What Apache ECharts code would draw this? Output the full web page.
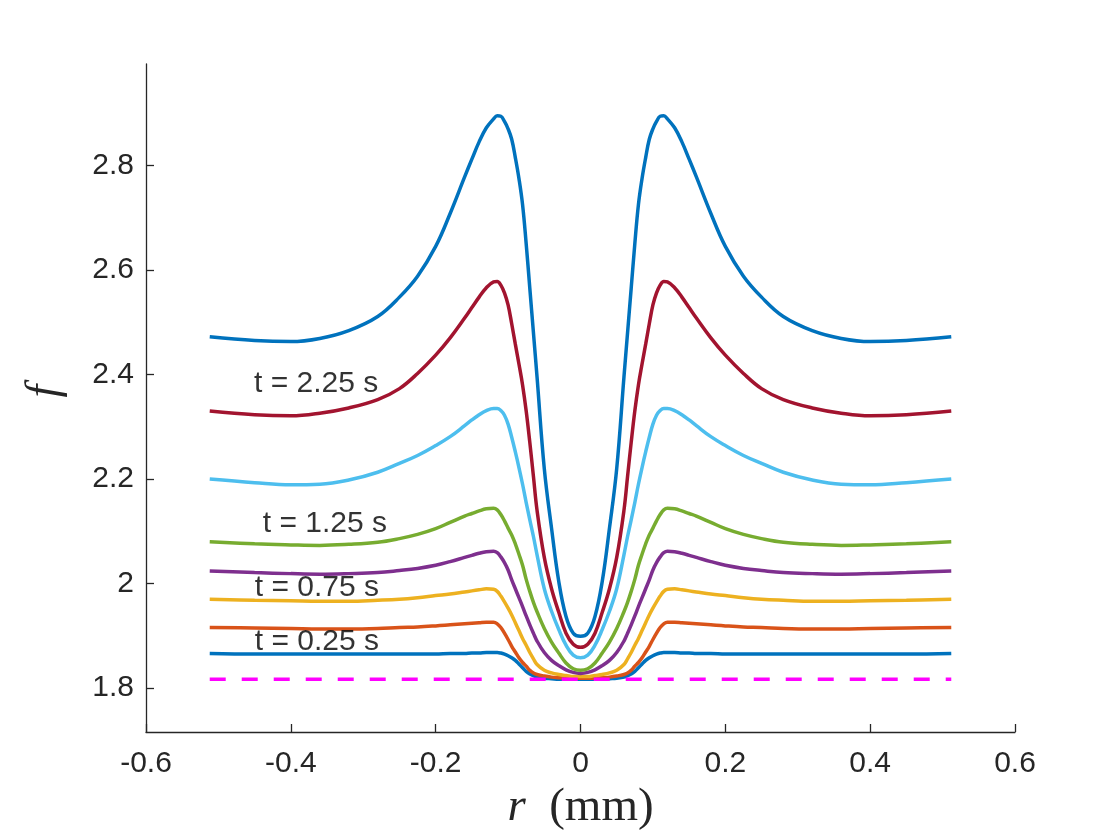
<!DOCTYPE html>
<html>
<head>
<meta charset="utf-8">
<script src="https://cdn.jsdelivr.net/npm/echarts@6/dist/echarts.min.js"></script>
<style>
html,body{margin:0;padding:0;background:#fff;}
#chart{width:1120px;height:840px;}
</style>
</head>
<body>
<div id="chart"></div>
<script>
// radial positions (mm)
const r = [-0.512, -0.45, -0.40, -0.36, -0.32, -0.28, -0.25, -0.225, -0.20, -0.18, -0.16, -0.15, -0.14, -0.13, -0.12, -0.115, -0.11, -0.105, -0.10, -0.095, -0.09, -0.085, -0.08, -0.075, -0.07, -0.065, -0.06, -0.05, -0.04, -0.03, -0.02, -0.01, 0,
           0.01, 0.02, 0.03, 0.04, 0.05, 0.06, 0.065, 0.07, 0.075, 0.08, 0.085, 0.09, 0.095, 0.10, 0.105, 0.11, 0.115, 0.12, 0.13, 0.14, 0.15, 0.16, 0.18, 0.20, 0.225, 0.25, 0.28, 0.32, 0.36, 0.40, 0.45, 0.512];

const f_t025 = [1.866, 1.865, 1.865, 1.865, 1.865, 1.865, 1.865, 1.865, 1.865, 1.866, 1.866, 1.867, 1.867, 1.868, 1.868, 1.868, 1.867, 1.865, 1.862, 1.858, 1.853, 1.846, 1.839, 1.832, 1.827, 1.824, 1.821, 1.819, 1.818, 1.817, 1.817, 1.817, 1.817,
                1.817, 1.817, 1.817, 1.818, 1.819, 1.821, 1.824, 1.827, 1.832, 1.839, 1.846, 1.853, 1.858, 1.862, 1.865, 1.867, 1.868, 1.868, 1.868, 1.867, 1.867, 1.866, 1.866, 1.865, 1.865, 1.865, 1.865, 1.865, 1.865, 1.865, 1.865, 1.866];
const f_t050 = [1.916, 1.915, 1.914, 1.913, 1.913, 1.914, 1.916, 1.917, 1.919, 1.921, 1.923, 1.924, 1.925, 1.926, 1.926, 1.923, 1.916, 1.905, 1.893, 1.880, 1.869, 1.858, 1.849, 1.842, 1.834, 1.829, 1.826, 1.823, 1.821, 1.820, 1.819, 1.819, 1.819,
                1.819, 1.819, 1.820, 1.821, 1.823, 1.826, 1.829, 1.834, 1.842, 1.849, 1.858, 1.869, 1.880, 1.893, 1.905, 1.916, 1.923, 1.926, 1.926, 1.925, 1.924, 1.923, 1.921, 1.919, 1.917, 1.916, 1.914, 1.913, 1.913, 1.914, 1.915, 1.916];
const f_t075 = [1.970, 1.968, 1.967, 1.966, 1.966, 1.968, 1.970, 1.973, 1.977, 1.980, 1.984, 1.986, 1.988, 1.990, 1.989, 1.985, 1.976, 1.965, 1.953, 1.940, 1.925, 1.910, 1.895, 1.882, 1.868, 1.856, 1.845, 1.834, 1.829, 1.826, 1.824, 1.822, 1.822,
                1.822, 1.824, 1.826, 1.829, 1.834, 1.845, 1.856, 1.868, 1.882, 1.895, 1.910, 1.925, 1.940, 1.953, 1.965, 1.976, 1.985, 1.989, 1.990, 1.988, 1.986, 1.984, 1.980, 1.977, 1.973, 1.970, 1.968, 1.966, 1.966, 1.967, 1.968, 1.970];
const f_t100 = [2.024, 2.021, 2.019, 2.018, 2.019, 2.021, 2.025, 2.029, 2.035, 2.042, 2.050, 2.054, 2.058, 2.061, 2.062, 2.059, 2.051, 2.040, 2.026, 2.007, 1.990, 1.973, 1.956, 1.938, 1.921, 1.905, 1.890, 1.868, 1.853, 1.843, 1.835, 1.830, 1.828,
                1.830, 1.835, 1.843, 1.853, 1.868, 1.890, 1.905, 1.921, 1.938, 1.956, 1.973, 1.990, 2.007, 2.026, 2.040, 2.051, 2.059, 2.062, 2.061, 2.058, 2.054, 2.050, 2.042, 2.035, 2.029, 2.025, 2.021, 2.019, 2.018, 2.019, 2.021, 2.024];
const f_t125 = [2.080, 2.076, 2.074, 2.073, 2.075, 2.079, 2.086, 2.094, 2.105, 2.117, 2.129, 2.134, 2.139, 2.143, 2.144, 2.141, 2.132, 2.120, 2.106, 2.093, 2.076, 2.056, 2.035, 2.008, 1.985, 1.964, 1.946, 1.914, 1.888, 1.867, 1.848, 1.837, 1.834,
                1.837, 1.848, 1.867, 1.888, 1.914, 1.946, 1.964, 1.985, 2.008, 2.035, 2.056, 2.076, 2.093, 2.106, 2.120, 2.132, 2.141, 2.144, 2.143, 2.139, 2.134, 2.129, 2.117, 2.105, 2.094, 2.086, 2.079, 2.075, 2.073, 2.074, 2.076, 2.080];
const f_t175 = [2.200, 2.193, 2.189, 2.190, 2.198, 2.213, 2.230, 2.245, 2.264, 2.281, 2.302, 2.313, 2.323, 2.331, 2.335, 2.335, 2.331, 2.322, 2.305, 2.280, 2.252, 2.222, 2.190, 2.155, 2.122, 2.090, 2.055, 1.990, 1.947, 1.912, 1.882, 1.863, 1.858,
                1.863, 1.882, 1.912, 1.947, 1.990, 2.055, 2.090, 2.122, 2.155, 2.190, 2.222, 2.252, 2.280, 2.305, 2.322, 2.331, 2.335, 2.335, 2.331, 2.323, 2.313, 2.302, 2.281, 2.264, 2.245, 2.230, 2.213, 2.198, 2.190, 2.189, 2.193, 2.200];
const f_t225 = [2.330, 2.323, 2.321, 2.326, 2.336, 2.352, 2.373, 2.402, 2.437, 2.470, 2.508, 2.528, 2.548, 2.566, 2.577, 2.578, 2.571, 2.556, 2.533, 2.497, 2.458, 2.420, 2.380, 2.330, 2.270, 2.205, 2.140, 2.050, 1.990, 1.945, 1.905, 1.884, 1.878,
                1.884, 1.905, 1.945, 1.990, 2.050, 2.140, 2.205, 2.270, 2.330, 2.380, 2.420, 2.458, 2.497, 2.533, 2.556, 2.571, 2.578, 2.577, 2.566, 2.548, 2.528, 2.508, 2.470, 2.437, 2.402, 2.373, 2.352, 2.336, 2.326, 2.321, 2.323, 2.330];
const f_t275 = [2.472, 2.465, 2.463, 2.469, 2.484, 2.511, 2.548, 2.588, 2.645, 2.708, 2.778, 2.812, 2.845, 2.872, 2.889, 2.895, 2.894, 2.884, 2.870, 2.850, 2.815, 2.775, 2.725, 2.650, 2.565, 2.480, 2.395, 2.220, 2.106, 2.004, 1.937, 1.905, 1.899,
                1.905, 1.937, 2.004, 2.106, 2.220, 2.395, 2.480, 2.565, 2.650, 2.725, 2.775, 2.815, 2.850, 2.870, 2.884, 2.894, 2.895, 2.889, 2.872, 2.845, 2.812, 2.778, 2.708, 2.645, 2.588, 2.548, 2.511, 2.484, 2.469, 2.463, 2.465, 2.472];

// reference (initial) level, dashed
const refR = [-0.512, 0.512];
const refF = [1.817, 1.817];

const seriesNames = ['t = 0.25 s', 't = 0.5 s', 't = 0.75 s', 't = 1 s', 't = 1.25 s', 't = 1.75 s', 't = 2.25 s', 't = 2.75 s'];
const seriesColors = ['#0072BD', '#D95319', '#EDB120', '#7E2F8E', '#77AC30', '#4DBEEE', '#A2142F', '#0072BD'];
const seriesValues = [f_t025, f_t050, f_t075, f_t100, f_t125, f_t175, f_t225, f_t275];

// text annotations [r, f, text]
const annotations = [
  [-0.364, 1.889, 't = 0.25 s'],
  [-0.364, 1.992, 't = 0.75 s'],
  [-0.353, 2.114, 't = 1.25 s'],
  [-0.365, 2.382, 't = 2.25 s']
];

// tick labels
const xTickValues = [-0.6, -0.4, -0.2, 0, 0.2, 0.4, 0.6];
const xTickLabels = ['-0.6', '-0.4', '-0.2', '0', '0.2', '0.4', '0.6'];
const yTickValues = [1.8, 2, 2.2, 2.4, 2.6, 2.8];
const yTickLabels = ['1.8', '2', '2.2', '2.4', '2.6', '2.8'];

const axisColor = '#262626';
const sansFont = '"Liberation Sans", Arial, Helvetica, sans-serif';
const serifFont = '"Liberation Serif", "Times New Roman", serif';

function zip(xs, ys) { return xs.map((x, i) => [x, ys[i]]); }

const series = seriesValues.map((vals, i) => ({
  name: seriesNames[i],
  type: 'line',
  data: zip(r, vals),
  showSymbol: false,
  symbol: 'none',
  smooth: 0.4,
  lineStyle: { color: seriesColors[i], width: 3.5 },
  itemStyle: { color: seriesColors[i] },
  z: 2 + i,
  silent: true
}));

series.push({
  name: 'reference',
  type: 'line',
  data: zip(refR, refF),
  showSymbol: false,
  symbol: 'none',
  lineStyle: { color: '#FF00FF', width: 3.5, type: [16, 16] },
  z: 20,
  silent: true
});

series.push({
  name: 'labels',
  type: 'scatter',
  data: annotations,
  symbolSize: 0,
  z: 30,
  silent: true,
  label: {
    show: true,
    position: 'inside',
    formatter: p => p.data[2],
    color: '#000',
    fontFamily: sansFont,
    fontSize: 30
  }
});

const chart = echarts.init(document.getElementById('chart'), null, { renderer: 'canvas' });
chart.setOption({
  animation: false,
  backgroundColor: '#fff',
  grid: { left: 146, right: 105, top: 64, bottom: 108, containLabel: false },
  xAxis: {
    type: 'value',
    min: -0.6,
    max: 0.6,
    interval: 0.2,
    name: '{i|r}  (mm)',
    nameLocation: 'middle',
    nameGap: 44,
    nameTextStyle: {
      fontFamily: serifFont, fontSize: 47, color: axisColor,
      rich: { i: { fontFamily: serifFont, fontStyle: 'italic', fontSize: 47, color: axisColor } }
    },
    axisLine: { show: true, onZero: false, lineStyle: { color: axisColor, width: 1.3 } },
    axisTick: { show: true, inside: true, length: 8, lineStyle: { color: axisColor, width: 1.3 } },
    splitLine: { show: false },
    axisLabel: {
      margin: 17,
      fontFamily: sansFont,
      fontSize: 30,
      color: axisColor,
      formatter: v => {
        const k = xTickValues.findIndex(t => Math.abs(t - v) < 1e-9);
        return k >= 0 ? xTickLabels[k] : '';
      }
    }
  },
  yAxis: {
    type: 'value',
    min: 1.716,
    max: 2.994,
    name: 'f',
    nameLocation: 'middle',
    nameGap: 78,
    nameRotate: 90,
    nameTextStyle: { fontFamily: serifFont, fontStyle: 'italic', fontSize: 46, color: axisColor, padding: [0, 0, 0, 14] },
    axisLine: { show: true, onZero: false, lineStyle: { color: axisColor, width: 1.3 } },
    axisTick: { show: true, inside: true, length: 8, customValues: yTickValues, lineStyle: { color: axisColor, width: 1.3 } },
    splitLine: { show: false },
    axisLabel: {
      margin: 12,
      fontFamily: sansFont,
      fontSize: 30,
      color: axisColor,
      customValues: yTickValues,
      formatter: v => {
        const k = yTickValues.findIndex(t => Math.abs(t - v) < 1e-9);
        return k >= 0 ? yTickLabels[k] : '';
      }
    }
  },
  series: series
});
</script>
</body>
</html>
